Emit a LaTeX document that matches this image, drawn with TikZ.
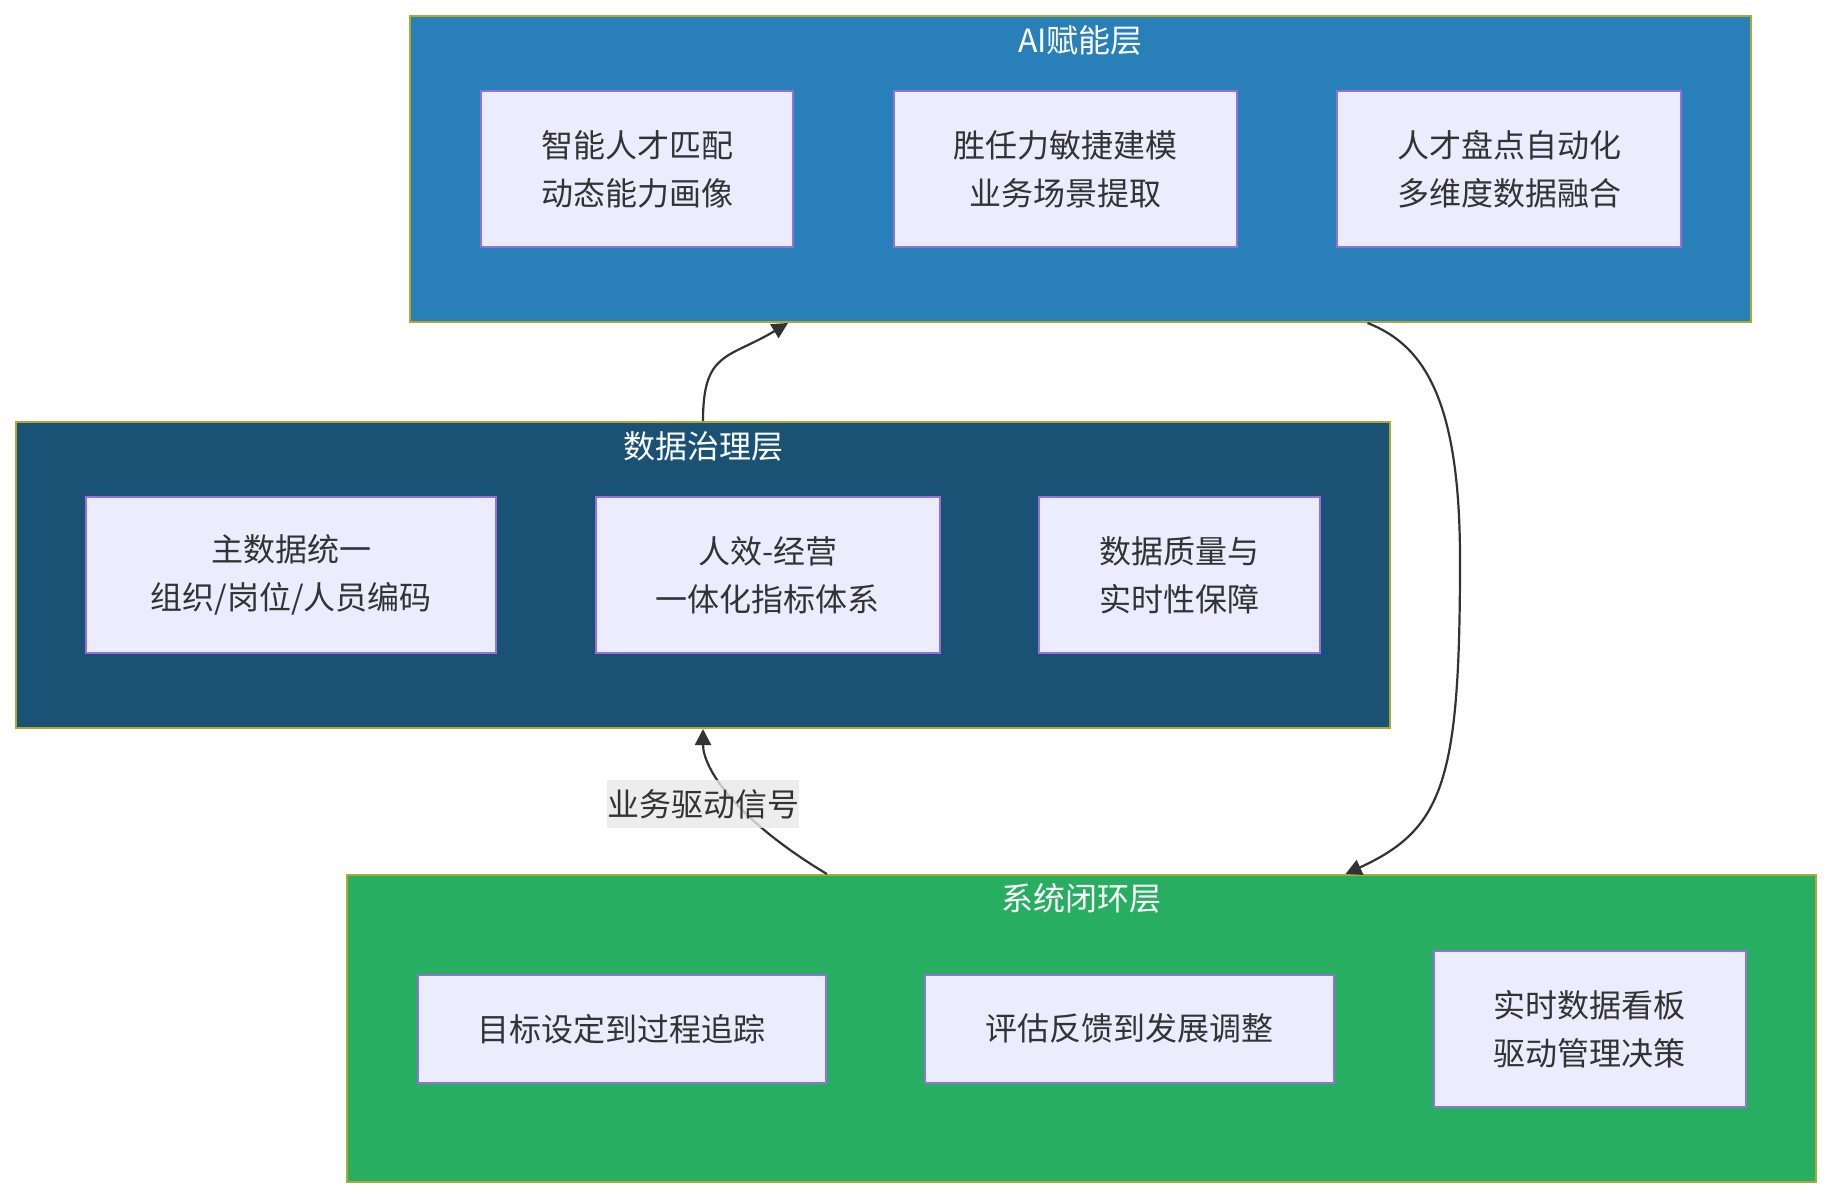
\documentclass[tikz,border=0pt]{standalone}
\usepackage{fontspec}
\setmainfont{Noto Sans CJK SC}
\usepackage{tikz}
\usetikzlibrary{calc,arrows.meta}
\definecolor{aiblue}{HTML}{2980B9}
\definecolor{datablue}{HTML}{1A5276}
\definecolor{loopgreen}{HTML}{27AE60}
\definecolor{layerline}{HTML}{AAAA33}
\definecolor{boxfill}{HTML}{ECECFF}
\definecolor{boxline}{HTML}{9370DB}
\definecolor{ink}{HTML}{333333}
\definecolor{labelbg}{HTML}{E8E8E8}

\begin{document}
\begin{tikzpicture}[x=1pt,y=-1pt,
  layer/.style={draw=layerline,line width=1pt,inner sep=0pt},
  title/.style={text=white,inner sep=0pt,font=\fontsize{16}{24}\selectfont},
  box/.style={draw=boxline,fill=boxfill,line width=1pt,text=ink,align=center,inner sep=0pt,
    minimum height=78pt,font=\fontsize{16}{24}\selectfont},
  lbl/.style={fill=labelbg,fill opacity=0.8,text opacity=1,text=ink,inner sep=0pt,
    minimum width=96pt,minimum height=24pt,font=\fontsize{16}{24}\selectfont},
  edge/.style={draw=ink,line width=1.1pt,-{Triangle[length=8pt,width=8pt]}}]
  \useasboundingbox (0,0) rectangle (915.5,599);
  \node[layer,fill=aiblue,minimum width=670.5pt,minimum height=153pt] (ai) at (540.25,84.5) {};
  \node[layer,fill=datablue,minimum width=687pt,minimum height=153pt] (data) at (351.5,287.5) {};
  \node[layer,fill=loopgreen,minimum width=734.5pt,minimum height=153.5pt] (loop) at (540.75,514.25) {};
  \node[title] (aititle) at ([yshift=-12.5pt]ai.north) {AI赋能层};
  \node[title] (datatitle) at ([yshift=-12.5pt]data.north) {数据治理层};
  \node[title] (looptitle) at ([yshift=-12pt]loop.north) {系统闭环层};

  \node[box,minimum width=156pt] (a1) at (318.7,84.5) {智能人才匹配\\动态能力画像};
  \node[box,minimum width=171.6pt] (a2) at (532.7,84.5) {胜任力敏捷建模\\业务场景提取};
  \node[box,minimum width=172pt] (a3) at (754.6,84.5) {人才盘点自动化\\多维度数据融合};
  \node[box,minimum width=205pt] (d1) at (145.5,287.5) {主数据统一\\组织/岗位/人员编码};
  \node[box,minimum width=172.2pt] (d2) at (383.9,287.5) {人效-经营\\一体化指标体系};
  \node[box,minimum width=140.5pt] (d3) at (589.7,287.5) {数据质量与\\实时性保障};
  \node[box,minimum width=204pt,minimum height=53.8pt] (s1) at (310.8,514.4) {目标设定到过程追踪};
  \node[box,minimum width=204.3pt,minimum height=53.8pt] (s2) at (564.6,514.4) {评估反馈到发展调整};
  \node[box,minimum width=156pt] (s3) at (794.8,514.4) {实时数据看板\\驱动管理决策};

  \coordinate (bend) at (730,280);
  \draw[edge] (data.north) .. controls +(0,-35) and +(-30,18) .. ([xshift=-146.25pt]ai.south);
  \draw[edge] ([xshift=-127.3pt]loop.north) .. controls +(-45,-27) and +(0,20) .. (data.south);
  \node[lbl] (signal) at ([yshift=-37.5pt]data.south) {业务驱动信号};
  \draw[edge] ([xshift=143.5pt]ai.south) .. controls +(28.3,11) and +(0,-80) .. (bend)
    .. controls +(0,110) and +(49.2,-22.5) .. ([xshift=132pt]loop.north);
\end{tikzpicture}
\end{document}
